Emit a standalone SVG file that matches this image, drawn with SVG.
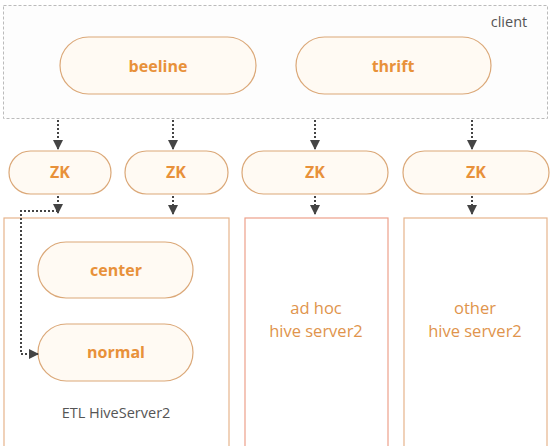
<svg xmlns="http://www.w3.org/2000/svg" width="553" height="446" viewBox="0 0 553 446">
<defs>
<marker id="ah" viewBox="0 0 10 10" refX="9" refY="5" markerWidth="5" markerHeight="5" orient="auto">
<path d="M0,0 L10,5 L0,10 z" fill="#444"/>
</marker>
<style>
.pill{fill:#fffaf3;stroke:#dba878;stroke-width:1.2}
.pt{font-family:"Open Sans","Noto Sans",sans-serif;font-weight:bold;font-size:16px;fill:#e8913a;text-anchor:middle}
.box{fill:#fff;stroke:#e6b48c;stroke-width:1.2}
.bt{font-family:"Open Sans","Noto Sans",sans-serif;font-size:16.5px;fill:#e0944c;text-anchor:middle}
.gt{font-family:"Open Sans","Noto Sans",sans-serif;font-size:14px;fill:#555;text-anchor:middle}
.cn{fill:none;stroke:#444;stroke-width:2;stroke-dasharray:2 2;marker-end:url(#ah)}
</style>
</defs>
<rect width="553" height="446" fill="#fff"/>
<g id="client">
<rect x="3.5" y="5.5" width="544" height="113" fill="#fdfdfd" stroke="#bbb" stroke-width="1" stroke-dasharray="3 2"/>
<text x="509" y="27" class="gt" style="font-size:14.5px">client</text>
</g>
<g id="beeline"><rect class="pill" x="60" y="37" width="196" height="57" rx="28.5"/><text class="pt" x="158" y="72">beeline</text></g>
<g id="thrift"><rect class="pill" x="296" y="37" width="195" height="57" rx="28.5"/><text class="pt" x="393" y="72">thrift</text></g>
<g id="zk1"><rect class="pill" x="9" y="151" width="102" height="43" rx="21.5"/><text class="pt" x="60" y="178">ZK</text></g>
<g id="zk2"><rect class="pill" x="125" y="151" width="103" height="43" rx="21.5"/><text class="pt" x="176" y="178">ZK</text></g>
<g id="zk3"><rect class="pill" x="242" y="151" width="146" height="43" rx="21.5"/><text class="pt" x="315" y="178">ZK</text></g>
<g id="zk4"><rect class="pill" x="403" y="151" width="146" height="43" rx="21.5"/><text class="pt" x="476" y="178">ZK</text></g>
<g id="etl">
<rect class="box" x="4" y="218" width="225" height="240"/>
<text class="gt" x="116" y="418" style="font-size:14.5px">ETL HiveServer2</text>
</g>
<g id="center"><rect class="pill" x="38" y="242" width="155" height="56" rx="28"/><text class="pt" x="116" y="276">center</text></g>
<g id="normal"><rect class="pill" x="38" y="324" width="155" height="57" rx="28.5"/><text class="pt" x="116" y="358">normal</text></g>
<g id="adhoc">
<rect class="box" x="245" y="218" width="143" height="240" style="stroke:#eda08a"/>
<text class="bt" x="316" y="314">ad hoc</text>
<text class="bt" x="316" y="337">hive server2</text>
</g>
<g id="other">
<rect class="box" x="404" y="218" width="143" height="240"/>
<text class="bt" x="475" y="314">other</text>
<text class="bt" x="475" y="337">hive server2</text>
</g>
<g id="connectors">
<path class="cn" d="M58,120 V149"/>
<path class="cn" d="M173,120 V149"/>
<path class="cn" d="M315,120 V149"/>
<path class="cn" d="M472,120 V149"/>
<path class="cn" d="M58,196 V213"/>
<path class="cn" d="M58,211 H21 V354 H38"/>
<path class="cn" d="M173,196 V214"/>
<path class="cn" d="M315,196 V214"/>
<path class="cn" d="M472,196 V214"/>
</g>
</svg>
